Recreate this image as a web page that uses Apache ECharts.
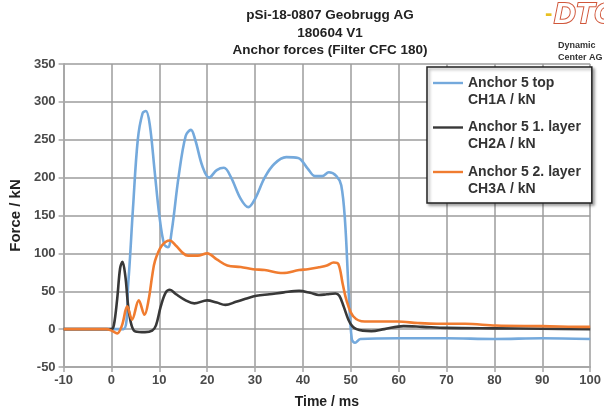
<!DOCTYPE html>
<html>
<head>
<meta charset="utf-8">
<script src="https://cdn.jsdelivr.net/npm/echarts@6/dist/echarts.min.js"></script>
<style>html,body{margin:0;padding:0;background:#fff}#c{width:604px;height:414px}</style>
</head>
<body>
<div id="c"></div>
<script>
const titleLines = ['pSi-18-0807 Geobrugg AG', '180604 V1', 'Anchor forces (Filter CFC 180)'];
const seriesNames = ['Anchor 5 top', 'Anchor 5 1. layer', 'Anchor 5 2. layer'];
const seriesUnits = ['CH1A / kN', 'CH2A / kN', 'CH3A / kN'];
const xTicks = { min: -10, max: 100, step: 10 };
const yTicks = { min: -50, max: 350, step: 50 };

const ch1a = [[-10,0],[2.5,0],[3.5,60],[4.5,160],[5.5,250],[6.5,285],[7.2,288],[8,270],[9,210],[10,150],[11,112],[11.8,108],[12.6,130],[14,200],[15.5,255],[16.6,263],[17.5,250],[19,215],[20.4,200],[22,210],[23.5,213],[25,200],[27,172],[28.6,161],[30,172],[32,200],[34,218],[36.5,227],[39,226],[41,212],[42.5,202],[44,202],[45.4,207],[47,202],[48,190],[48.8,142],[49.5,56],[50.2,-13],[50.9,-18],[52,-13],[60,-12],[70,-12],[80,-13],[90,-12],[100,-13]];
const ch2a = [[-10,0],[0,0],[0.5,5],[1.2,40],[1.8,80],[2.3,89],[2.9,70],[3.5,30],[4.2,5],[5,-3],[7,-4],[8.5,-2],[9.3,5],[10.3,30],[11.3,48],[12.2,52],[13.5,46],[15.5,38],[17.3,34],[20,38],[22,35],[23.8,32],[26,36],[28,40],[30.3,44],[33,46],[36,48.5],[39.2,50.5],[41.5,48],[43.3,45],[45,46],[46.8,47],[47.6,44],[48.5,30],[49.5,12.5],[50.3,4],[51.2,0],[52.5,-2],[54.3,-2.6],[57,0],[61,4],[65,3],[70,1.7],[80,1],[90,0.5],[100,0]];
const ch3a = [[-10,0],[-1,0],[0,-2],[1.2,-5.6],[2.2,5],[3.3,30],[4.3,12.5],[5.7,38],[6.9,19],[7.8,40],[8.5,70],[9.1,90],[10.5,110],[12.2,117],[13.5,110],[15,100],[16,97],[18,97],[20,100],[22,92],[24.2,84],[27,82],[29.6,79],[32,78],[35.8,74],[39.2,78],[41,79],[43.3,81.6],[45,84],[46.4,88],[47.4,86],[48.3,60],[49.1,38],[50.5,17],[52.9,10],[56,10],[59.8,10],[64,8],[68,7],[73.9,7],[80.3,4.7],[90,4],[99.4,3],[100,3]];

const colors = ['#74a9dc', '#383838', '#f07c30'];
const FONT = 'Liberation Sans, Arial, sans-serif';

const chart = echarts.init(document.getElementById('c'), null, { renderer: 'canvas' });
const mk = (name, data, color) => ({
  name, type: 'line', data, smooth: 0.35, symbol: 'none',
  lineStyle: { color, width: 2.6 }, itemStyle: { color }
});

chart.setOption({
  animation: false,
  backgroundColor: '#fff',
  title: {
    text: titleLines.join('\n'), left: 330, top: 7, textAlign: 'center', padding: 0,
    textStyle: { fontFamily: FONT, fontSize: 13.5, fontWeight: 'bold', color: '#222', lineHeight: 17.5 }
  },
  grid: { left: 60, right: 8, top: 64, bottom: 42, containLabel: false },
  xAxis: {
    type: 'value', min: xTicks.min, max: xTicks.max, interval: xTicks.step,
    name: 'Time / ms', nameLocation: 'middle', nameGap: 28,
    nameTextStyle: { fontFamily: FONT, fontSize: 14, fontWeight: 'bold', color: '#222' },
    axisLine: { onZero: false, lineStyle: { color: '#a8a8a8', width: 2 } },
    axisTick: { show: true, length: 5, lineStyle: { color: '#a8a8a8', width: 1.5 } },
    axisLabel: { fontFamily: FONT, fontSize: 13, fontWeight: 'bold', color: '#4a4a4a', margin: 7 },
    splitLine: { show: true, lineStyle: { color: '#9c9c9c', width: 1.5 } }
  },
  yAxis: {
    type: 'value', min: yTicks.min, max: yTicks.max, interval: yTicks.step,
    name: 'Force / kN', nameLocation: 'middle', nameGap: 38, nameRotate: 90,
    nameTextStyle: { fontFamily: FONT, fontSize: 15, fontWeight: 'bold', color: '#222' },
    axisLine: { show: true, onZero: false, lineStyle: { color: '#a8a8a8', width: 2 } },
    axisTick: { show: true, length: 5, lineStyle: { color: '#a8a8a8', width: 1.5 } },
    axisLabel: { fontFamily: FONT, fontSize: 13, fontWeight: 'bold', color: '#4a4a4a', margin: 8 },
    splitLine: { show: true, lineStyle: { color: '#9c9c9c', width: 1.5 } }
  },
  legend: {
    orient: 'vertical', left: 427, top: 67, padding: [9, 11, 24, 6],
    itemWidth: 30, itemHeight: 14, itemGap: 30.5,
    icon: 'path://M0,0H30V2.4H0Z',
    backgroundColor: '#fff', borderColor: '#222', borderWidth: 1.5,
    shadowColor: 'rgba(0,0,0,0.35)', shadowBlur: 3, shadowOffsetX: 2, shadowOffsetY: 2,
    textStyle: { fontFamily: FONT, fontSize: 14, fontWeight: 'bold', color: '#333' },
    data: seriesNames
  },
  graphic: [
    ...seriesUnits.map((t, i) => ({
      type: 'text', left: 468, top: 93 + i * 44.5, z: 100,
      style: { text: t, font: 'bold 14px ' + FONT, fill: '#333' }
    })),
    { type: 'text', left: 545, top: 3, style: { text: '-', font: 'bold 22px ' + FONT, fill: '#e8c020' } },
    { type: 'text', left: 553, top: -1, style: { text: 'DTC', font: 'bold italic 30px ' + FONT, fill: '#fff', stroke: '#d0563a', lineWidth: 2 } },
    { type: 'text', left: 558, top: 41, style: { text: 'Dynamic', font: 'bold 9px ' + FONT, fill: '#333' } },
    { type: 'text', left: 558, top: 53, style: { text: 'Center AG', font: 'bold 9px ' + FONT, fill: '#333' } }
  ],
  series: [
    mk(seriesNames[0], ch1a, colors[0]),
    mk(seriesNames[1], ch2a, colors[1]),
    mk(seriesNames[2], ch3a, colors[2])
  ]
});
</script>
</body>
</html>
